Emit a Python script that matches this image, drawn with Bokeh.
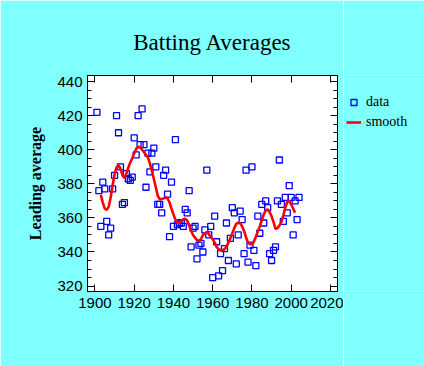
from bokeh.plotting import figure
from bokeh.layouts import row
from bokeh.models import Range1d, LinearAxis, FixedTicker, Legend, LegendItem, Title
from bokeh.embed import file_html
from bokeh.resources import INLINE

# ---- data (leading batting average per season) ----
years = list(range(1901, 2005))
leading_avg = [
    422, 376, 355, 381, 377, 358, 350, 354, 377, 385,   # 1901-1910
    420, 410, 390, 368, 369, 386, 383, 382, 384, 407,   # 1911-1920
    397, 420, 403, 424, 403, 378, 398, 387, 398, 401,   # 1921-1930
    390, 368, 368, 363, 385, 388, 374, 349, 381, 355,   # 1931-1940
    406, 356, 357, 357, 355, 365, 363, 376, 343, 354,   # 1941-1950
    355, 336, 344, 345, 340, 353, 388, 350, 355, 325,   # 1951-1960
    361, 346, 326, 339, 329, 342, 357, 335, 348, 366,   # 1961-1970
    363, 333, 350, 364, 359, 339, 388, 334, 344, 390,   # 1971-1980
    341, 332, 361, 351, 368, 357, 370, 366, 339, 335,   # 1981-1990
    341, 343, 370, 394, 368, 358, 372, 363, 379, 372,   # 1991-2000
    350, 370, 359, 372,                                 # 2001-2004
]

smooth_years = list(range(1903, 2003))
smooth_avg = [
    373.5, 369.0, 365.5, 364.7, 366.5, 372.0, 379.0,                # 1903-1909
    385.5, 389.5, 391.0, 389.0, 385.0, 383.5, 386.0, 389.5, 392.5, 395.0,  # 1910-1919
    398.0, 400.5, 401.8, 401.5, 400.0, 398.5, 397.0, 395.5, 392.0, 387.6,  # 1920-1929
    383.0, 378.0, 373.0, 371.0, 371.0, 371.5, 372.0, 371.5, 369.0, 365.5,  # 1930-1939
    362.0, 359.0, 357.2, 357.2, 358.2, 359.2, 359.5, 358.5, 355.5, 352.5,  # 1940-1949
    350.0, 348.4, 347.0, 346.5, 347.5, 350.0, 351.0, 351.4, 350.5, 349.0,  # 1950-1959
    347.5, 345.5, 343.0, 341.6, 341.0, 341.0, 341.6, 343.0, 345.5, 348.0,  # 1960-1969
    351.0, 354.0, 356.5, 357.2, 357.0, 355.0, 352.4, 348.5, 345.5, 344.5,  # 1970-1979
    344.5, 346.0, 349.0, 352.0, 355.0, 358.5, 362.0, 364.5, 365.0, 363.5,  # 1980-1989
    361.0, 357.5, 353.5, 354.0, 355.5, 357.5, 361.5, 366.0, 369.5, 370.0,  # 1990-1999
    368.0, 365.5, 363.0,                                                   # 2000-2002
]

x_ticks = [1900, 1920, 1940, 1960, 1980, 2000, 2020]
y_ticks = [320, 340, 360, 380, 400, 420, 440]
y_minor_ticks = list(range(315, 450, 5))

title_text = "Batting Averages"
y_label = "Leading average"
legend_labels = ["data", "smooth"]

CYAN = "#80FFFF"
BLUE = "#0000FF"
RED = "#FF0000"

p = figure(frame_width=250, frame_height=216, output_backend="svg", toolbar_location=None,
           x_range=Range1d(1896.2, 2023.6), y_range=Range1d(316.8, 443.6),
           min_border_left=87, min_border_right=6, min_border_top=75, min_border_bottom=75,
           x_axis_type=None, y_axis_type=None)
p.border_fill_color = CYAN
p.background_fill_color = "white"
p.outline_line_color = "black"
p.outline_line_width = 1


def make_axis(ticks, minor, show_labels):
    ax = LinearAxis(ticker=FixedTicker(ticks=ticks, minor_ticks=minor))
    ax.axis_line_color = "black"
    ax.major_tick_line_color = "black"
    ax.minor_tick_line_color = "black"
    ax.major_tick_in = 7
    ax.major_tick_out = 0
    ax.minor_tick_in = 4
    ax.minor_tick_out = 0
    ax.major_label_text_font = "Liberation Sans"
    if show_labels:
        ax.major_label_text_font_size = "15px"
        ax.major_label_text_color = "black"
    else:
        ax.major_label_text_font_size = "1px"
        ax.major_label_text_color = None
        ax.major_label_standoff = 0
    return ax


bottom = make_axis(x_ticks, [], True)
bottom.major_label_standoff = 6
top = make_axis(x_ticks, [], False)
left = make_axis(y_ticks, y_minor_ticks, True)
left.major_label_standoff = 5
left.axis_label = y_label
left.axis_label_text_font = "Liberation Serif"
left.axis_label_text_font_style = "bold"
left.axis_label_text_font_size = "16px"
left.axis_label_text_color = "black"
left.axis_label_standoff = 10
right = make_axis(y_ticks, y_minor_ticks, False)

p.add_layout(bottom, "below")
p.add_layout(top, "above")
p.add_layout(left, "left")
p.add_layout(right, "right")

p.scatter(years, leading_avg, marker="square", size=6, fill_color=None,
          line_color=BLUE, line_width=1.3)
p.line(smooth_years, smooth_avg, line_color=RED, line_width=2.6)

title = Title(text=title_text, align="center", text_font="Liberation Serif",
              text_font_size="23px", text_font_style="normal", text_color="black",
              standoff=42)
p.add_layout(title, "above")

# ---- legend panel to the right of the plot ----
# key renderers carry one off-range sample so the legend can draw their glyphs
key_x = [years[0], years[1]]
key_y = [leading_avg[0], leading_avg[1]]
lg = figure(width=81, height=366, output_backend="svg", toolbar_location=None,
            x_range=Range1d(0, 1), y_range=Range1d(0, 1),
            min_border_left=0, min_border_right=0, min_border_top=0, min_border_bottom=0,
            x_axis_type=None, y_axis_type=None)
lg.border_fill_color = CYAN
lg.background_fill_color = CYAN
lg.outline_line_color = None
key_pts = lg.scatter(key_x, key_y, marker="square", size=6, fill_color=None,
                     line_color=BLUE, line_width=1.3)
key_line = lg.line(key_x, key_y, line_color=RED, line_width=2.6)

legend = Legend(items=[LegendItem(label=legend_labels[0], renderers=[key_pts]),
                       LegendItem(label=legend_labels[1], renderers=[key_line])],
                location=(3, 159), border_line_color=None, background_fill_alpha=0,
                label_text_font="Liberation Serif", label_text_font_size="14px",
                label_text_color="black", glyph_width=15, glyph_height=20,
                label_height=20, spacing=0, padding=0,
                label_standoff=5, margin=0)
lg.add_layout(legend, "center")

page = row(p, lg, spacing=0)
html = file_html(page, INLINE, title=title_text)
open("out.html", "w").write(html)
